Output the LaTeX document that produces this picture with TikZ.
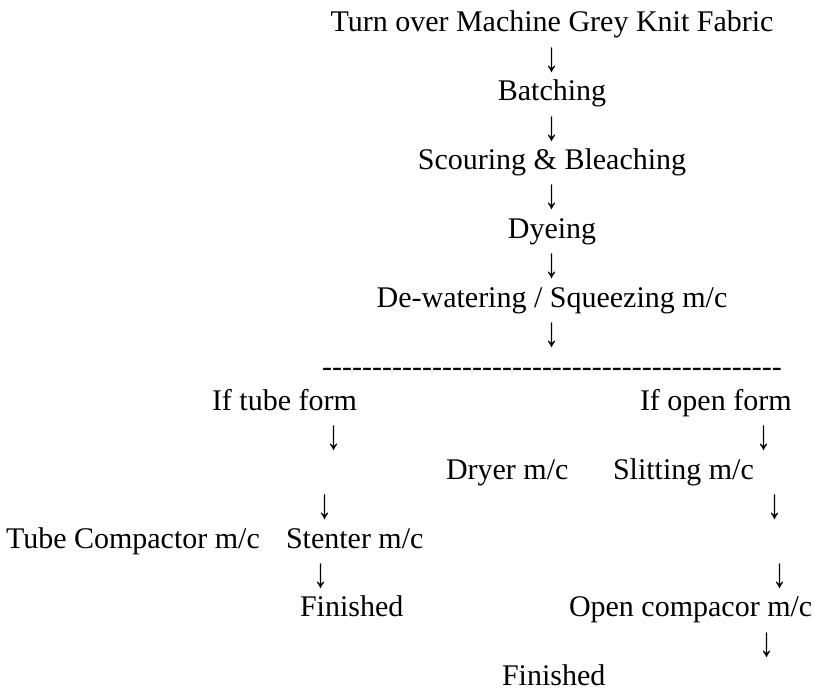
\documentclass[tikz,border=0pt]{standalone}
\usepackage{fontspec}
\setmainfont{Liberation Serif}
% slightly stretched down-arrow glyph used between the steps
\newcommand\downarr{\raisebox{-5pt}{\scalebox{1}[1.4]{↓}}}
\begin{document}
\begin{tikzpicture}[x=1pt,y=1pt,
  txt/.style={inner sep=0pt, outer sep=0pt, font=\fontsize{30}{34.5}\selectfont},
  lft/.style={txt, anchor=base west},
  mid/.style={txt, anchor=base},
  dn/.style={txt, anchor=base}]
\useasboundingbox (0,0) rectangle (815,-693);
% baseline of text row i: -(32 + 34.4 i)
\def\rowgap{34.4}
\def\top{32}
% main trunk
\node[mid] (grey)  at (552,{-\top-\rowgap*0})  {Turn over Machine Grey Knit Fabric};
\node[dn]  (a1)    at (552,{-\top-\rowgap*1})  {\downarr};
\node[mid] (batch) at (552,{-\top-\rowgap*2})  {Batching};
\node[dn]  (a2)    at (552,{-\top-\rowgap*3})  {\downarr};
\node[mid] (scour) at (552,{-\top-\rowgap*4})  {Scouring \& Bleaching};
\node[dn]  (a3)    at (552,{-\top-\rowgap*5})  {\downarr};
\node[mid] (dye)   at (552,{-\top-\rowgap*6})  {Dyeing};
\node[dn]  (a4)    at (552,{-\top-\rowgap*7})  {\downarr};
\node[mid] (dewat) at (552,{-\top-\rowgap*8})  {De-watering / Squeezing m/c};
\node[dn]  (a5)    at (552,{-\top-\rowgap*9})  {\downarr};
\node[mid] (split) at (552,{-\top-\rowgap*10}) {\foreach \k in {1,...,46}{\mbox{-}}};
% tube form branch
\node[lft] (tube)  at (212,{-\top-\rowgap*11}) {If tube form};
\node[dn]  (t1)    at (334,{-\top-\rowgap*12}) {\downarr};
\node[lft] (dryer) at (446,{-\top-\rowgap*13}) {Dryer m/c};
\node[dn]  (t2)    at (325,{-\top-\rowgap*14}) {\downarr};
\node[lft] (tcomp) at (6,{-\top-\rowgap*15})   {Tube Compactor m/c};
\node[lft] (stent) at (286,{-\top-\rowgap*15}) {Stenter m/c};
\node[dn]  (t3)    at (321,{-\top-\rowgap*16}) {\downarr};
\node[lft] (fin1)  at (300,{-\top-\rowgap*17}) {Finished};
% open form branch
\node[lft] (open)  at (640,{-\top-\rowgap*11}) {If open form};
\node[dn]  (o1)    at (764,{-\top-\rowgap*12}) {\downarr};
\node[lft] (slit)  at (613,{-\top-\rowgap*13}) {Slitting m/c};
\node[dn]  (o2)    at (775,{-\top-\rowgap*14}) {\downarr};
\node[dn]  (o3)    at (780,{-\top-\rowgap*16}) {\downarr};
\node[lft] (ocomp) at (569,{-\top-\rowgap*17}) {Open compacor m/c};
\node[dn]  (o4)    at (767,{-\top-\rowgap*18}) {\downarr};
\node[lft] (fin2)  at (502,{-\top-\rowgap*19}) {Finished};
\end{tikzpicture}
\end{document}
